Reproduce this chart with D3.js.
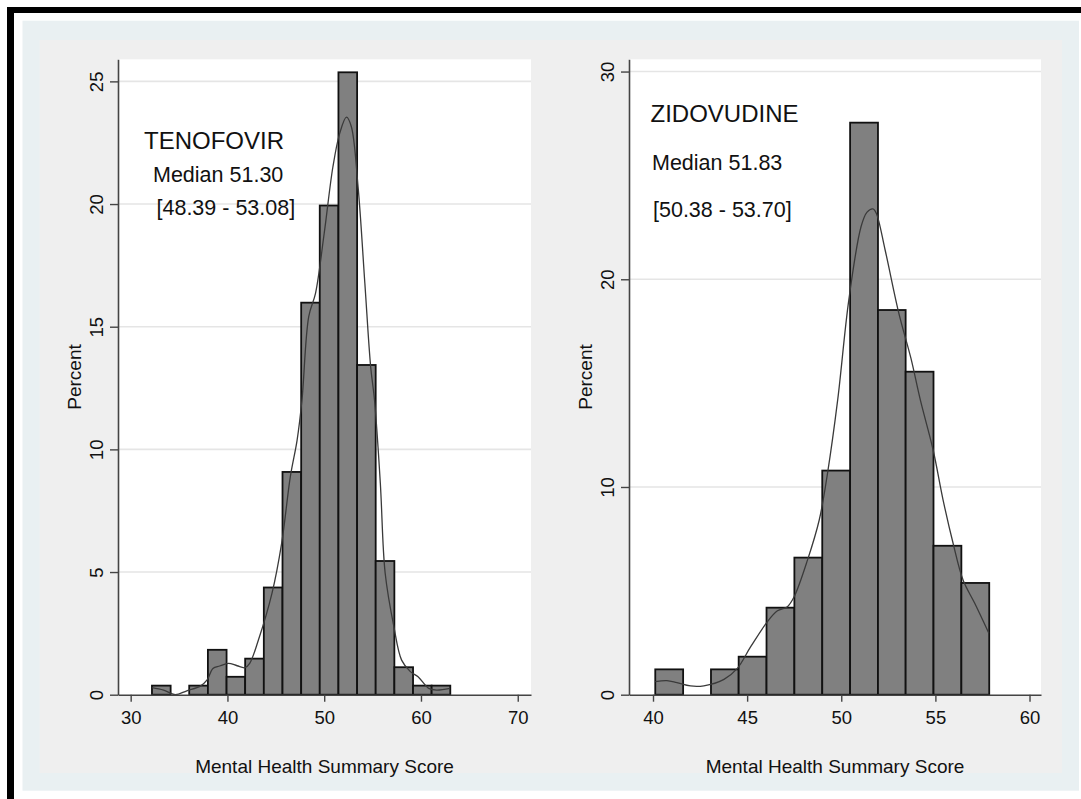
<!DOCTYPE html>
<html>
<head>
<meta charset="utf-8">
<script src="https://cdn.jsdelivr.net/npm/d3@7"></script>
<style>
  body { margin: 0; background: #fff; }
  svg { display: block; font-family: "Liberation Sans", Arial, sans-serif; }
</style>
</head>
<body>
<svg id="chart" width="1081" height="799"></svg>
<script>
// tenofovir histogram (bin edges and percent per bin)
const tenoEdges = [32.20, 34.13, 36.05, 37.98, 39.91, 41.83, 43.76, 45.69, 47.62,
  49.54, 51.47, 53.40, 55.32, 57.25, 59.18, 61.10, 63.03];
const tenoPct = [0.37, 0, 0.37, 1.83, 0.73, 1.47, 4.37, 9.08, 15.98, 19.94,
  25.37, 13.44, 5.45, 1.12, 0.37, 0.37];
// tenofovir kernel density
const tenoKdeX = [32.2, 33.4, 34.6, 35.8, 37.2, 37.9, 38.5, 39.2, 40.1, 41.0, 41.8, 42.3,
  43.2, 44.6, 45.6, 46.5, 47.2, 47.7, 48.4, 49.1, 50.0, 50.9, 51.6, 52.3, 52.8, 53.5,
  54.2, 54.8, 55.2, 55.8, 56.3, 57.2, 58.0, 58.9, 59.7, 60.8, 61.6, 63.0];
const tenoKdeY = [0.29, 0.19, 0.0, 0.16, 0.35, 0.6, 1.07, 1.17, 1.28, 1.18, 1.1, 1.28,
  2.23, 4.13, 6.17, 8.89, 10.38, 12.0, 15.41, 16.36, 18.81, 21.52, 22.88, 23.54, 23.16, 20.7,
  16.77, 13.37, 12.0, 8.62, 4.95, 2.77, 1.41, 0.94, 0.73, 0.26, 0.19, 0.26];

// zidovudine histogram
const zidoEdges = [40.12, 41.60, 43.08, 44.55, 46.03, 47.51, 48.99, 50.47, 51.95,
  53.42, 54.90, 56.38, 57.86];
const zidoPct = [1.22, 0, 1.22, 1.83, 4.19, 6.6, 10.79, 27.54, 18.52, 15.55, 7.17, 5.38];
const zidoKdeX = [40.12, 40.74, 41.27, 41.99, 42.7, 43.77, 44.48, 45.19, 46.07, 46.61, 47.14,
  47.5, 48.21, 48.83, 49.27, 49.81, 50.4, 51.05, 51.37, 51.68, 51.86, 52.33, 53.06, 53.7,
  54.2, 54.88, 55.41, 55.94, 56.47, 57.09, 57.84];
const zidoKdeY = [0.63, 0.68, 0.58, 0.42, 0.43, 0.74, 1.27, 2.31, 3.51, 4.04, 4.24,
  4.72, 6.49, 8.41, 10.66, 14.19, 19.0, 22.53, 23.23, 23.39, 23.18, 21.41, 18.36, 16.2,
  14.19, 11.78, 9.37, 7.29, 5.52, 4.4, 2.96];

const tenoXTicks = [30, 40, 50, 60, 70];
const tenoYTicks = [0, 5, 10, 15, 20, 25];
const zidoXTicks = [40, 45, 50, 55, 60];
const zidoYTicks = [0, 10, 20, 30];

const tenoLabel = ["TENOFOVIR", "Median 51.30", "[48.39 - 53.08]"];
const zidoLabel = ["ZIDOVUDINE", "Median 51.83", "[50.38 - 53.70]"];
const xTitle = "Mental Health Summary Score";
const yTitle = "Percent";

const svg = d3.select("#chart");

// frame: black edge on the left and top, bluish outer region, grey graph region
svg.append("rect").attr("x", 7).attr("y", 7).attr("width", 7).attr("height", 792).attr("fill", "#000");
svg.append("rect").attr("x", 7).attr("y", 7).attr("width", 1074).attr("height", 6).attr("fill", "#000");
svg.append("rect").attr("x", 22.5).attr("y", 20.7).attr("width", 1056.5).attr("height", 770)
  .attr("fill", "#e9f0f2");
svg.append("rect").attr("x", 39.5).attr("y", 40).attr("width", 1022.5).attr("height", 733)
  .attr("fill", "#efefef");

function drawPanel(opt) {
  const { left, right, top, bottom } = opt;
  const x = d3.scaleLinear().domain(opt.xDomain).range([left, right]);
  const y = d3.scaleLinear().domain([0, opt.yMax]).range([bottom, top]);

  const g = svg.append("g");
  g.append("rect").attr("x", left).attr("y", top)
    .attr("width", right - left).attr("height", bottom - top).attr("fill", "#fff");

  // gridlines
  g.append("g").selectAll("line")
    .data(opt.yTicks.filter(d => d > 0))
    .join("line")
    .attr("x1", left).attr("x2", right)
    .attr("y1", d => y(d)).attr("y2", d => y(d))
    .attr("stroke", "#e5e5e5").attr("stroke-width", 1.6);

  // bars
  const bins = opt.pct.map((p, i) => ({ x0: opt.edges[i], x1: opt.edges[i + 1], p }))
    .filter(d => d.p > 0);
  g.append("g").selectAll("rect")
    .data(bins)
    .join("rect")
    .attr("x", d => x(d.x0))
    .attr("y", d => y(d.p))
    .attr("width", d => x(d.x1) - x(d.x0))
    .attr("height", d => y(0) - y(d.p))
    .attr("fill", "#808080")
    .attr("stroke", "#111")
    .attr("stroke-width", 1.8);

  // density curve
  const line = d3.line()
    .x(i => x(opt.kdeX[i]))
    .y(i => y(opt.kdeY[i]))
    .curve(d3.curveCatmullRom.alpha(0.5));
  g.append("path")
    .attr("d", line(d3.range(opt.kdeX.length)))
    .attr("fill", "none")
    .attr("stroke", "#3a3a3a")
    .attr("stroke-width", 1.3);

  // x axis
  const xa = g.append("g")
    .attr("transform", `translate(0,${bottom})`)
    .call(d3.axisBottom(x).tickValues(opt.xTicks).tickSize(7).tickSizeOuter(0));
  xa.select(".domain").attr("stroke", "#444").attr("stroke-width", 1.6);
  xa.selectAll(".tick line").attr("stroke", "#444").attr("stroke-width", 1.4);
  xa.selectAll(".tick text")
    .attr("y", 29.5).attr("dy", 0)
    .attr("font-size", 18.5).attr("fill", "#111")
    .attr("font-family", "Liberation Sans, Arial, sans-serif");

  // y axis, labels turned on their side
  const ya = g.append("g")
    .attr("transform", `translate(${left},0)`)
    .call(d3.axisLeft(y).tickValues(opt.yTicks).tickSize(8).tickSizeOuter(0));
  ya.select(".domain").attr("stroke", "#444").attr("stroke-width", 1.6);
  ya.selectAll(".tick line").attr("stroke", "#444").attr("stroke-width", 1.4);
  ya.selectAll(".tick text")
    .attr("x", 0).attr("y", -15.5).attr("dy", 0)
    .attr("transform", "rotate(-90)")
    .attr("text-anchor", "middle")
    .attr("font-size", 18.5).attr("fill", "#111")
    .attr("font-family", "Liberation Sans, Arial, sans-serif");

  // axis titles
  g.append("text")
    .attr("x", (left + right) / 2).attr("y", 772.5)
    .attr("text-anchor", "middle")
    .attr("font-size", 19).attr("fill", "#111")
    .text(xTitle);
  g.append("text")
    .attr("transform", `translate(${left - 37.5},${(top + bottom) / 2}) rotate(-90)`)
    .attr("text-anchor", "middle")
    .attr("font-size", 19).attr("fill", "#111")
    .text(yTitle);

  // annotation
  opt.label.forEach((t, i) => {
    g.append("text")
      .attr("x", opt.labelPos[i][0]).attr("y", opt.labelPos[i][1])
      .attr("font-size", i === 0 ? 24 : 21.5).attr("fill", "#111")
      .text(t);
  });
}

drawPanel({
  left: 118, right: 531, top: 59.3, bottom: 694.7,
  xDomain: [28.69, 71.37], yMax: 25.9,
  edges: tenoEdges, pct: tenoPct, kdeX: tenoKdeX, kdeY: tenoKdeY,
  xTicks: tenoXTicks, yTicks: tenoYTicks,
  label: tenoLabel, labelPos: [[144, 149], [153, 181.7], [156.5, 215]]
});

drawPanel({
  left: 629, right: 1041, top: 59.3, bottom: 694.7,
  xDomain: [38.725, 60.61], yMax: 30.59,
  edges: zidoEdges, pct: zidoPct, kdeX: zidoKdeX, kdeY: zidoKdeY,
  xTicks: zidoXTicks, yTicks: zidoYTicks,
  label: zidoLabel, labelPos: [[650.5, 121.7], [652, 170], [653, 217.3]]
});
</script>
</body>
</html>
